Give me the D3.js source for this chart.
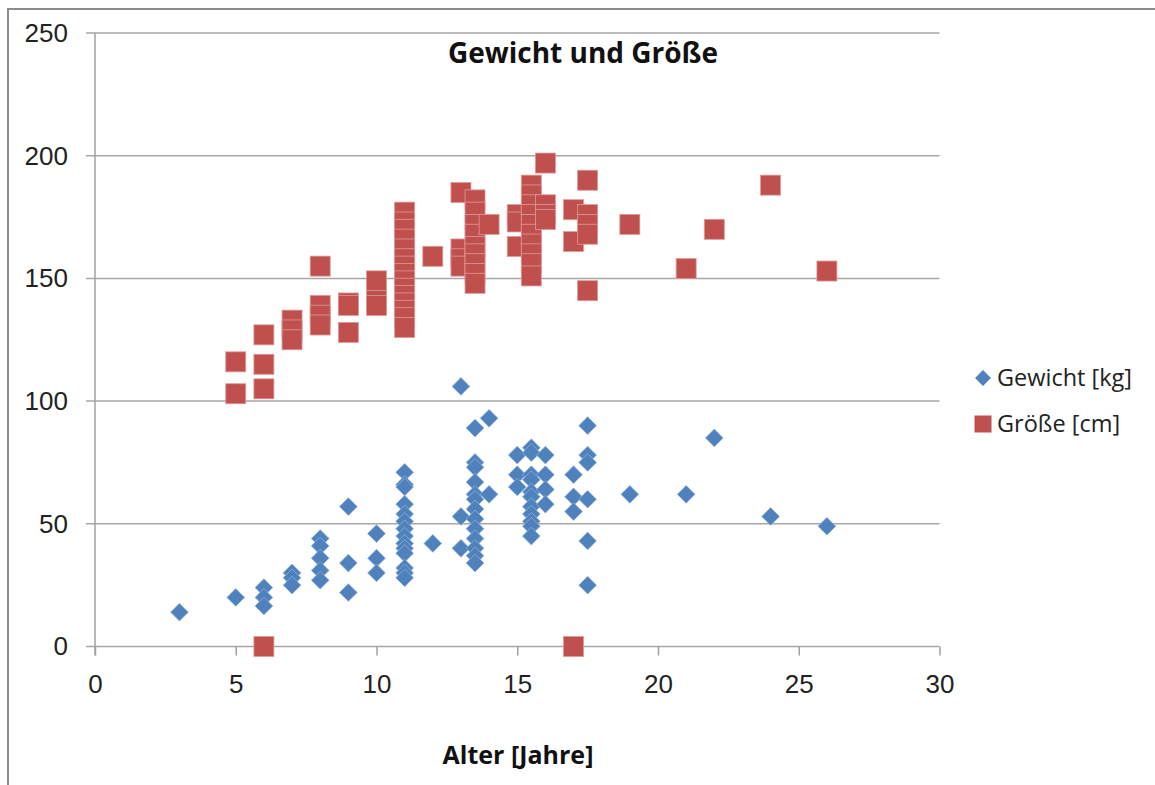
<!DOCTYPE html>
<html>
<head>
<meta charset="utf-8">
<title>Gewicht und Größe</title>
<script src="https://cdn.jsdelivr.net/npm/d3@7"></script>
<style>
    html, body { margin: 0; padding: 0; background: #fff; }
    svg { display: block; font-family: "Open Sans", "DejaVu Sans", sans-serif; }
    .axis path { display: none; }
    .axis line { stroke: #a0a0a0; }
    .axis text { fill: #222; font-size: 26px; }
    .grid line { stroke: #a6a6a6; stroke-width: 1.5; }
</style>
</head>
<body>
<div id="chart"></div>
<script>
/*
** Data: [Alter, Wert]
*/
var gewicht = [
    [3, 14], [5, 20],
    [6, 24], [6, 20], [6, 16.5],
    [7, 30], [7, 28], [7, 25],
    [8, 44], [8, 41], [8, 36], [8, 31], [8, 27],
    [9, 57], [9, 34], [9, 22],
    [10, 46], [10, 36], [10, 30],
    [11, 71], [11, 66], [11, 65], [11, 58], [11, 54], [11, 51], [11, 48],
    [11, 45], [11, 42], [11, 40], [11, 38], [11, 32], [11, 30], [11, 28],
    [12, 42],
    [13, 106], [13, 53], [13, 40],
    [13.5, 89], [13.5, 75], [13.5, 73], [13.5, 67], [13.5, 62], [13.5, 60],
    [13.5, 56], [13.5, 52], [13.5, 48], [13.5, 44], [13.5, 40], [13.5, 37], [13.5, 34],
    [14, 93], [14, 62],
    [15, 78], [15, 70], [15, 65],
    [15.5, 81], [15.5, 79], [15.5, 70], [15.5, 68], [15.5, 63], [15.5, 61],
    [15.5, 57], [15.5, 54], [15.5, 51], [15.5, 49], [15.5, 45],
    [16, 78], [16, 70], [16, 64], [16, 58],
    [17, 70], [17, 61], [17, 55],
    [17.5, 90], [17.5, 78], [17.5, 75], [17.5, 60], [17.5, 43], [17.5, 25],
    [19, 62], [21, 62], [22, 85], [24, 53], [26, 49]
];
var groesse = [
    [5, 116], [5, 103],
    [6, 127], [6, 115], [6, 105], [6, 0],
    [7, 133], [7, 129], [7, 125],
    [8, 155], [8, 139], [8, 135], [8, 131],
    [9, 140], [9, 139], [9, 128],
    [10, 149], [10, 141], [10, 139],
    [11, 177], [11, 173], [11, 170], [11, 166], [11, 162], [11, 158], [11, 155],
    [11, 152], [11, 149], [11, 146], [11, 143], [11, 140], [11, 137], [11, 134], [11, 130],
    [12, 159],
    [13, 185], [13, 162], [13, 158], [13, 155],
    [13.5, 182], [13.5, 177], [13.5, 172], [13.5, 168], [13.5, 163],
    [13.5, 160], [13.5, 156], [13.5, 152], [13.5, 148],
    [14, 172],
    [15, 176], [15, 173], [15, 163],
    [15.5, 188], [15.5, 184], [15.5, 180], [15.5, 176], [15.5, 172],
    [15.5, 168], [15.5, 164], [15.5, 160], [15.5, 156], [15.5, 151],
    [16, 197], [16, 180], [16, 176], [16, 174],
    [17, 178], [17, 165], [17, 0],
    [17.5, 190], [17.5, 176], [17.5, 172], [17.5, 168], [17.5, 145],
    [19, 172], [21, 154], [22, 170], [24, 188], [26, 153]
];
var seriesNames = ["Gewicht [kg]", "Größe [cm]"];
var xTicks = [0, 5, 10, 15, 20, 25, 30];
var yTicks = [0, 50, 100, 150, 200, 250];

var W = 1155
  , H = 785
  , x = d3.scaleLinear().domain([0, 30]).range([95, 939.5])
  , y = d3.scaleLinear().domain([0, 250]).range([646.5, 33])
  , blue = "#4f81bd"
  , red = "#c0504d"
  , diamond = d3.symbol().type(d3.symbolDiamond2).size(200)
;

var svg = d3.select("#chart")
  .append("svg")
    .attr("width", W)
    .attr("height", H)
;

// outer frame, right and bottom edges fall outside the picture
svg.append("rect")
    .attr("x", 8)
    .attr("y", 9)
    .attr("width", W + 20)
    .attr("height", H + 20)
    .attr("fill", "none")
    .attr("stroke", "#8c8c8c")
    .attr("stroke-width", 2)
;

// horizontal gridlines
svg.append("g")
    .attr("class", "grid")
  .selectAll("line")
    .data(yTicks)
  .enter().append("line")
    .attr("x1", x(0) - 9)
    .attr("x2", x(30))
    .attr("y1", function(d) { return y(d); })
    .attr("y2", function(d) { return y(d); })
;

// y axis line
svg.append("line")
    .attr("x1", x(0)).attr("x2", x(0))
    .attr("y1", y(250)).attr("y2", y(0) + 9)
    .attr("stroke", "#a0a0a0")
    .attr("stroke-width", 1.5)
;

svg.append("g")
    .attr("class", "axis axis--y")
    .attr("transform", "translate(" + x(0) + ",0)")
    .call(d3.axisLeft(y).tickValues(yTicks).tickSize(0).tickPadding(27))
;

svg.append("g")
    .attr("class", "axis axis--x")
    .attr("transform", "translate(0," + y(0) + ")")
    .call(d3.axisBottom(x).tickValues(xTicks).tickSize(9).tickPadding(19))
    .selectAll("line").attr("stroke-width", 1.5)
;

// Gewicht: diamonds
svg.append("g")
  .selectAll("path")
    .data(gewicht)
  .enter().append("path")
    .attr("d", diamond)
    .attr("transform", function(d) { return "translate(" + x(d[0]) + "," + y(d[1]) + ")"; })
    .attr("fill", blue)
    .attr("stroke", "#8eb0da")
    .attr("stroke-width", 0.8)
;

// Größe: squares
svg.append("g")
  .selectAll("rect")
    .data(groesse)
  .enter().append("rect")
    .attr("x", function(d) { return x(d[0]) - 10; })
    .attr("y", function(d) { return y(d[1]) - 10; })
    .attr("width", 20)
    .attr("height", 20)
    .attr("fill", red)
    .attr("stroke", "#dc9a98")
    .attr("stroke-width", 0.8)
;

// title and axis label
svg.append("text")
    .attr("x", 583)
    .attr("y", 63)
    .attr("text-anchor", "middle")
    .attr("font-size", 28)
    .attr("font-weight", "bold")
    .attr("fill", "#111")
    .text("Gewicht und Größe")
;
svg.append("text")
    .attr("x", 518)
    .attr("y", 764)
    .attr("text-anchor", "middle")
    .attr("font-size", 25)
    .attr("font-weight", "bold")
    .attr("fill", "#111")
    .text("Alter [Jahre]")
;

// legend
var legend = svg.append("g")
  .selectAll("g")
    .data(seriesNames)
  .enter().append("g")
    .attr("transform", function(d, i) { return "translate(983," + (378 + i * 46) + ")"; })
;
legend.filter(function(d, i) { return i === 0; })
  .append("path")
    .attr("d", d3.symbol().type(d3.symbolDiamond2).size(160))
    .attr("fill", blue)
;
legend.filter(function(d, i) { return i === 1; })
  .append("rect")
    .attr("x", -8.5).attr("y", -8.5)
    .attr("width", 17).attr("height", 17)
    .attr("fill", red)
;
legend.append("text")
    .attr("x", 14)
    .attr("y", 8)
    .attr("font-size", 23.5)
    .attr("fill", "#222")
    .text(function(d) { return d; })
;
</script>
</body>
</html>
